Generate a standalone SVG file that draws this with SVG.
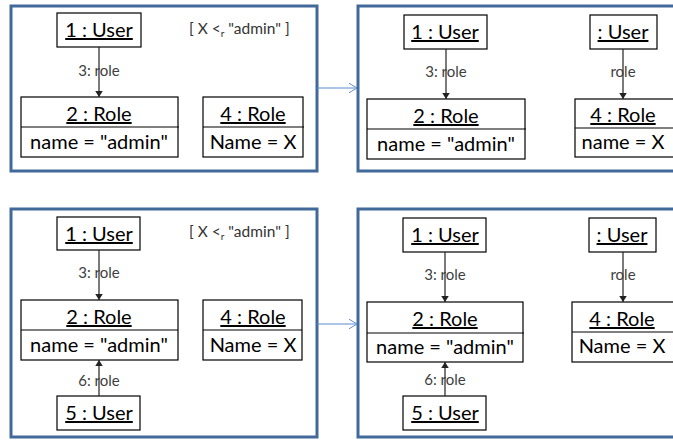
<svg xmlns="http://www.w3.org/2000/svg" width="673" height="441" viewBox="0 0 673 441">
<defs>
<style>
.frame{fill:#fff;stroke:#41699A;stroke-width:3}
.box{fill:#fff;stroke:#000;stroke-width:1.2}
.div{stroke:#000;stroke-width:1.2}
.t{font-family:"Lato","Liberation Sans",sans-serif;font-size:20px;fill:#000;text-anchor:middle}
.u{text-decoration:underline}
.lbl{font-family:"Lato","Liberation Sans",sans-serif;font-size:15px;fill:#404040;text-anchor:middle}
.cond{font-family:"Lato","Liberation Sans",sans-serif;font-size:15.5px;fill:#333;text-anchor:start}
.edge{stroke:#222;stroke-width:1.2;fill:none;marker-end:url(#ah)}
.step{stroke:#5B8BD0;stroke-width:1;fill:none;marker-end:url(#oh)}
</style>
<marker id="ah" viewBox="0 0 8 10" refX="8" refY="5" markerWidth="6" markerHeight="7.5" markerUnits="userSpaceOnUse" orient="auto">
<path d="M0,0 L8,5 L0,10 z" fill="#222"/>
</marker>
<marker id="oh" viewBox="0 0 10 12" refX="10" refY="6" markerWidth="8" markerHeight="10" markerUnits="userSpaceOnUse" orient="auto">
<path d="M0,0 L10,6 L0,12" fill="none" stroke="#5B8BD0" stroke-width="1.2"/>
</marker>
</defs>

<!-- frames -->
<rect class="frame" x="11" y="6" width="306" height="165"/>
<rect class="frame" x="358" y="6" width="330" height="165"/>
<rect class="frame" x="11" y="209" width="306" height="228"/>
<rect class="frame" x="358" y="209" width="330" height="228"/>

<!-- top-left -->
<g id="tl-user1"><rect class="box" x="57" y="13" width="84" height="34"/><text class="t u" x="99" y="37">1 : User</text></g>
<g id="tl-role2"><rect class="box" x="21" y="97" width="157" height="60"/><line class="div" x1="21" y1="127" x2="179" y2="127"/><text class="t u" x="99" y="121">2 : Role</text><text class="t" x="99" y="149">name = "admin"</text></g>
<g id="tl-role4"><rect class="box" x="203" y="97" width="100" height="60"/><line class="div" x1="203" y1="127" x2="304" y2="127"/><text class="t u" x="253" y="121">4 : Role</text><text class="t" x="253" y="149">Name = X</text></g>
<text class="cond" x="189" y="34">[ X &lt;<tspan font-size="10" dy="3">r</tspan><tspan dy="-3"> "admin" ]</tspan></text>

<!-- top-right -->
<g id="tr-user1"><rect class="box" x="404" y="15" width="83" height="34"/><text class="t u" x="445" y="39">1 : User</text></g>
<g id="tr-role2"><rect class="box" x="367" y="99" width="158" height="60"/><line class="div" x1="367" y1="129" x2="526" y2="129"/><text class="t u" x="446" y="123">2 : Role</text><text class="t" x="446" y="151">name = "admin"</text></g>
<g id="tr-user"><rect class="box" x="590" y="15" width="67" height="34"/><text class="t u" x="623" y="39">: User</text></g>
<g id="tr-role4"><rect class="box" x="575" y="99" width="110" height="58"/><line class="div" x1="575" y1="128" x2="685" y2="128"/><text class="t u" x="623" y="122">4 : Role</text><text class="t" x="623" y="149">name = X</text></g>

<!-- bottom-left -->
<g id="bl-user1"><rect class="box" x="57" y="217" width="83" height="33"/><text class="t u" x="99" y="241">1 : User</text></g>
<g id="bl-role2"><rect class="box" x="21" y="300" width="157" height="60"/><line class="div" x1="21" y1="330" x2="178" y2="330"/><text class="t u" x="99" y="324">2 : Role</text><text class="t" x="99" y="352">name = "admin"</text></g>
<g id="bl-role4"><rect class="box" x="203" y="300" width="99" height="60"/><line class="div" x1="203" y1="330" x2="302" y2="330"/><text class="t u" x="253" y="324">4 : Role</text><text class="t" x="253" y="352">Name = X</text></g>
<g id="bl-user5"><rect class="box" x="57" y="396" width="83" height="34"/><text class="t u" x="99" y="420">5 : User</text></g>
<text class="cond" x="189" y="237">[ X &lt;<tspan font-size="10" dy="3">r</tspan><tspan dy="-3"> "admin" ]</tspan></text>

<!-- bottom-right -->
<g id="br-user1"><rect class="box" x="403" y="218" width="83" height="34"/><text class="t u" x="445" y="242">1 : User</text></g>
<g id="br-role2"><rect class="box" x="367" y="302" width="156" height="60"/><line class="div" x1="367" y1="333" x2="524" y2="333"/><text class="t u" x="445" y="326">2 : Role</text><text class="t" x="445" y="354">name = "admin"</text></g>
<g id="br-user"><rect class="box" x="589" y="218" width="67" height="34"/><text class="t u" x="622" y="242">: User</text></g>
<g id="br-role4"><rect class="box" x="572" y="302" width="113" height="60"/><line class="div" x1="572" y1="332" x2="685" y2="332"/><text class="t u" x="622" y="326">4 : Role</text><text class="t" x="622" y="353">Name = X</text></g>
<g id="br-user5"><rect class="box" x="403" y="396" width="83" height="34"/><text class="t u" x="445" y="420">5 : User</text></g>

<!-- connectors -->
<g id="connectors">
<path class="edge" d="M99,47 V97"/>
<path class="edge" d="M446,49 V99"/>
<path class="edge" d="M623,49 V99"/>
<path class="edge" d="M99,250 V300"/>
<path class="edge" d="M99,396 V360"/>
<path class="edge" d="M445,252 V302"/>
<path class="edge" d="M445,396 V362"/>
<path class="edge" d="M623,252 V302"/>
<path class="step" d="M317,88 H357"/>
<path class="step" d="M317,324 H357"/>
</g>
<text class="lbl" x="99" y="76">3: role</text>
<text class="lbl" x="446" y="77">3: role</text>
<text class="lbl" x="623" y="77">role</text>
<text class="lbl" x="99" y="278">3: role</text>
<text class="lbl" x="99" y="386">6: role</text>
<text class="lbl" x="445" y="280">3: role</text>
<text class="lbl" x="445" y="385">6: role</text>
<text class="lbl" x="623" y="280">role</text>
</svg>
